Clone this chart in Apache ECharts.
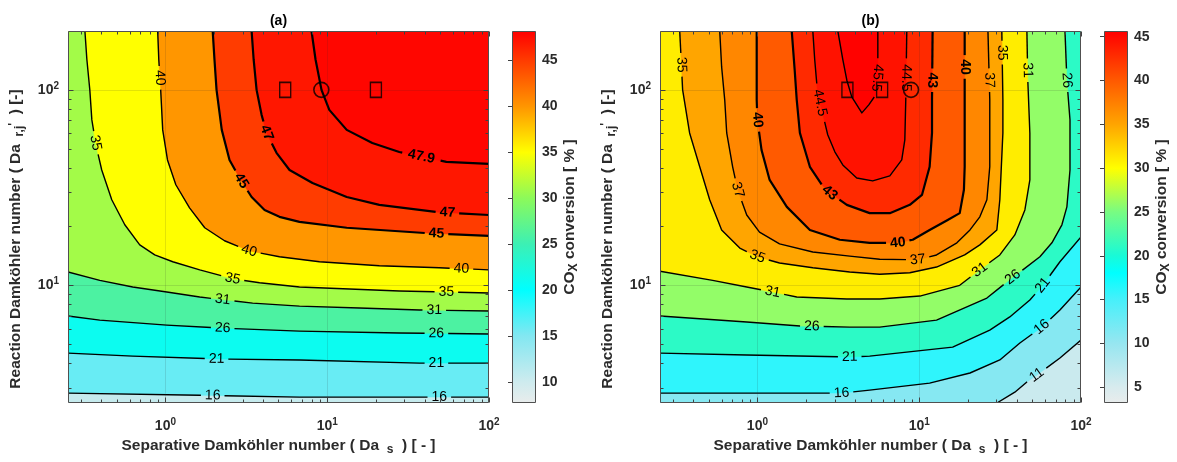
<!DOCTYPE html>
<html><head><meta charset="utf-8">
<script src="https://cdn.jsdelivr.net/npm/echarts@6/dist/echarts.min.js"></script>
<style>html,body{margin:0;padding:0;background:#fff}#c{width:1177px;height:462px}</style>
</head><body><div id="c"></div>
<script>
// ---------------- data ----------------
const X_RANGE = [0.25, 100];     // Separative Damkohler number
const Y_RANGE = [2.5, 200];      // Reaction Damkohler number
const X_TICKS = [1, 10, 100];
const Y_TICKS = [10, 100];

// panel (a)
const levelsA = [16, 21, 26, 31, 35, 40, 45, 47, 47.9];
const c16a = [[0.25,2.81],[1.63,2.74],[6.74,2.68],[100,2.68]];
const c21a = [[0.25,4.5],[0.628,4.34],[2.07,4.2],[6.74,4.15],[37.2,4.0],[100,4.0]];
const c26a = [[0.25,6.97],[0.393,6.64],[1.02,6.26],[2.26,6.04],[6.74,5.83],[27.9,5.7],[100,5.64]];
const c31a = [[0.25,11.7],[0.393,10.6],[0.628,9.8],[1.02,9.24],[1.63,8.71],[3.46,8.11],[6.74,7.83],[15.8,7.65],[37.2,7.48],[100,7.39]];
const c35a = [[0.318,200],[0.327,143],[0.341,100],[0.351,70.2],[0.372,52.3],[0.404,38.9],[0.466,27.4],[0.561,20.4],[0.694,16.1],[0.859,14.3],[1.11,13.2],[1.63,12.0],[2.6,10.8],[3.82,10.3],[6.74,9.8],[13.7,9.57],[27.9,9.35],[56.9,9.24],[100,9.14]];
const c40a = [[0.896,200],[0.91,143],[0.935,100],[0.962,62.4],[1.03,43.8],[1.16,32.7],[1.41,24.9],[1.75,19.7],[2.32,16.9],[3.31,15.0],[5.07,14.0],[8.96,13.2],[21.0,12.6],[49.3,12.3],[100,12.0]];
const c45a = [[1.96,200],[2.01,143],[2.07,100],[2.23,62.4],[2.49,43.8],[2.87,35.4],[3.41,28.3],[4.1,24.3],[5.07,22.4],[6.74,21.1],[13.2,19.7],[41,18.5],[100,17.9]];
const c47a = [[3.41,200],[3.51,143],[3.66,100],[3.93,74.5],[4.22,60.2],[4.86,47.6],[5.85,38.9],[8.11,33.4],[13.2,28.3],[21,25.8],[47.3,23.7],[100,22.9]];
const c479a = [[8.0,200],[8.47,143],[9.22,100],[10.3,79],[13.2,62.4],[19,53.5],[27.9,48.1],[54.5,42.8],[100,41.8]];
const labelsA = [[35,0.366,53.5],[35,2.6,10.8],[35,54.5,9.24],[40,0.896,115],[40,3.31,15.2],[40,67.5,12.0],
  [45,3.0,34.6],[45,47.3,17.9],[47,4.22,60.2],[47,55.3,23.4],[47.9,38.2,45.4],[31,2.26,8.41],[31,45.9,7.48],
  [26,2.26,6.04],[26,47.3,5.64],[21,2.07,4.2],[21,47.3,4.0],[16,1.96,2.7],[16,49.3,2.68]];
const boldA = [45, 47, 47.9];
const floorA = 10.5;
const squaresA = [[5.5,100],[20,100]];
const circlesA = [[9.2,100]];
const cbRangeA = [7.7, 48.2];
const cbTicksA = [10, 15, 20, 25, 30, 35, 40, 45];

// panel (b)
const levelsB = [11, 16, 21, 26, 31, 35, 37, 40, 43, 44.5, 45.5];
const c11b = [[30.2,2.5],[39.0,2.84],[46.3,3.2],[53.3,3.47],[74.1,4.25],[100,5.25]];
const c16b = [[0.25,2.81],[0.859,2.81],[3.31,2.81],[4.94,2.91],[11.6,3.16],[20.6,3.56],[31.5,4.15],[41.9,5.07],[57.3,6.11],[74.1,7.48],[100,9.8]];
const c21b = [[0.25,4.5],[0.859,4.4],[3.72,4.3],[4.94,4.34],[16.1,4.83],[27.3,5.9],[36.3,6.89],[48.3,8.41],[58.1,10.0],[74.1,13.2],[100,17.7]];
const c26b = [[0.25,6.97],[0.859,6.49],[1.83,6.19],[3.72,6.11],[5.7,6.11],[12.8,6.64],[26.2,8.61],[37.9,11.0],[43.7,12.0],[55.7,14.0],[66.1,16.5],[76.2,20.4],[81.8,25.2],[85.5,38.9],[85.5,70.2],[81.8,112],[79.6,200]];
const c31b = [[0.25,11.8],[0.529,10.6],[0.859,9.8],[1.24,9.24],[1.75,8.71],[3.57,8.51],[5.7,8.51],[10.1,8.81],[17.8,10.0],[23.7,12.0],[31.5,14.3],[39.0,18.1],[45.0,24.3],[48.3,34.6],[48.3,60.2],[46.9,112],[46.3,200]];
const c35b = [[0.331,200],[0.345,100],[0.381,60.2],[0.44,40.4],[0.507,27.4],[0.601,19.2],[0.778,15.5],[1.0,14.0],[1.37,13.0],[2.2,12.3],[3.72,11.7],[5.7,11.4],[8.75,11.6],[12.8,12.4],[19.1,14.3],[23.7,16.1],[30.2,19.2],[31.5,27.4],[32.9,60.2],[32.9,88.9],[32.4,200]];
const c37b = [[0.585,200],[0.601,131],[0.628,88.9],[0.646,60.2],[0.703,40.4],[0.755,30.8],[0.859,22.9],[1.03,18.7],[1.37,16.3],[2.2,14.8],[3.72,14.1],[5.7,13.6],[9.8,13.5],[12.8,14.3],[17.1,16.5],[20.6,19.2],[23.7,22.4],[26.2,27.4],[27.3,40.4],[27.3,88.9],[26.6,200]];
const c40b = [[0.99,200],[0.99,88.9],[1.0,70.2],[1.06,49.3],[1.19,34.6],[1.52,25.2],[2.11,19.2],[3.23,17.1],[4.94,16.5],[7.38,16.5],[9.12,17.1],[11.6,19.2],[15.0,21.6],[17.8,23.4],[18.9,30.8],[19.1,40.4],[19.1,88.9],[19.1,200]];
const c43b = [[1.63,200],[1.7,126],[1.75,88.9],[1.83,60.2],[2.11,40.4],[2.5,32.7],[2.8,29.7],[3.57,25.8],[4.94,23.4],[6.58,23.4],[8.75,25.8],[10.4,29.0],[11.6,40.4],[12.0,60.2],[12.0,88.9],[12.1,200]];
const c445b = [[2.2,200],[2.26,143],[2.36,94.3],[2.5,79],[2.72,58.9],[3.01,48.2],[3.37,41.3],[4.11,35.4],[5.16,34.2],[6.58,36.3],[7.8,43.8],[8.15,55.4],[8.26,88.9],[8.38,200]];
const c455b = [[3.14,200],[3.37,143],[3.57,112],[3.83,92.1],[4.42,76.2],[4.88,83.8],[5.39,94.3],[5.55,126],[5.55,200]];
const labelsB = [[35,0.326,134],[35,1.0,14.0],[35,31.5,155],[37,0.755,30.8],[37,9.8,13.5],[37,26.6,112],
  [40,1.0,70.2],[40,7.38,16.5],[40,18.9,131],[43,2.8,29.7],[43,11.6,112],[44.5,2.43,85.8],[44.5,8.38,115],
  [45.5,5.55,115],[31,1.24,9.24],[31,23.7,12.0],[31,46.3,126],[26,2.17,6.11],[26,37.9,11.0],[26,81.8,112],
  [21,3.72,4.3],[21,58.1,10.0],[16,3.31,2.81],[16,57.3,6.11],[11,53.3,3.47]];
const boldB = [40, 43];
const floorB = 6;
const squaresB = [[3.6,100],[5.9,100]];
const circlesB = [[8.9,100]];
const cbRangeB = [3.2, 45.65];
const cbTicksB = [5, 10, 15, 20, 25, 30, 35, 40, 45];

// ---------------- styling ----------------
const FONT = '"Liberation Sans", Arial, Helvetica, sans-serif';
const TXT = '#2b2b2b';
const CMAP_A = [[7.7,[232,236,236]],[10,[205,235,238]],[15,[130,231,241]],[20,[0,255,255]],[25,[60,240,180]],[30,[140,250,90]],[35,[255,255,0]],[40,[255,150,0]],[45,[255,60,0]],[48.2,[255,0,0]]];
const CMAP_B = [[3.2,[232,236,236]],[5,[215,235,238]],[10,[150,230,240]],[15,[70,240,250]],[18,[0,255,255]],[20,[25,250,215]],[25,[120,252,130]],[30,[255,255,0]],[35,[255,165,0]],[40,[255,90,0]],[45,[255,10,0]],[45.65,[255,0,0]]];

function rgb(c){ return 'rgb(' + c.map(v => Math.round(v)).join(',') + ')'; }
function cmapColor(cmap, v){
  if (v <= cmap[0][0]) return rgb(cmap[0][1]);
  for (let i = 0; i < cmap.length - 1; i++) {
    const a = cmap[i][0], b = cmap[i+1][0];
    if (v <= b) { const t = (v - a) / (b - a); return rgb(cmap[i][1].map((x, j) => x + (cmap[i+1][1][j] - x) * t)); }
  }
  return rgb(cmap[cmap.length-1][1]);
}

const panels = [
  {levels: levelsA, contours: [c16a,c21a,c26a,c31a,c35a,c40a,c45a,c47a,c479a], labels: labelsA, bold: boldA,
   floor: floorA, cmap: CMAP_A, cbRange: cbRangeA, cbTicks: cbTicksA, squares: squaresA, circles: circlesA,
   title: '(a)', grid: {left: 68, top: 31, width: 421, height: 372}, cb: {left: 512, top: 31, width: 24, height: 372}},
  {levels: levelsB, contours: [c11b,c16b,c21b,c26b,c31b,c35b,c37b,c40b,c43b,c445b,c455b], labels: labelsB, bold: boldB,
   floor: floorB, cmap: CMAP_B, cbRange: cbRangeB, cbTicks: cbTicksB, squares: squaresB, circles: circlesB,
   title: '(b)', grid: {left: 660, top: 31, width: 421, height: 372}, cb: {left: 1104, top: 31, width: 24, height: 372}}
];

// ---------------- geometry helpers ----------------
const lg = Math.log10;
const EXT = {x0: lg(X_RANGE[0]), x1: lg(X_RANGE[1]), y0: lg(Y_RANGE[0]), y1: lg(Y_RANGE[1])};
function perim(p){
  const x = lg(p[0]), y = lg(p[1]), e = 1e-4;
  const w = EXT.x1 - EXT.x0, h = EXT.y1 - EXT.y0;
  if (Math.abs(y - EXT.y0) < e) return (x - EXT.x0) / w;
  if (Math.abs(x - EXT.x1) < e) return 1 + (y - EXT.y0) / h;
  if (Math.abs(y - EXT.y1) < e) return 2 + (EXT.x1 - x) / w;
  return 3 + (EXT.y1 - y) / h;
}
const CORNERS = [[X_RANGE[0],Y_RANGE[0]],[X_RANGE[1],Y_RANGE[0]],[X_RANGE[1],Y_RANGE[1]],[X_RANGE[0],Y_RANGE[1]]];
// region above a contour (high side on the left of travel): close along the frame counter-clockwise
function superLevel(line){
  const se = perim(line[line.length-1]);
  let ss = perim(line[0]);
  if (ss <= se) ss += 4;
  const out = line.slice();
  for (let c = Math.floor(se) + 1; c < ss; c++) out.push(CORNERS[c % 4]);
  return out;
}

function fillRender(P){
  return function(params, api){
    const k = params.dataIndex;
    let poly, lev;
    if (k === 0) { poly = [CORNERS[0], CORNERS[1], CORNERS[2], CORNERS[3]]; lev = P.floor; }
    else { poly = superLevel(P.contours[k-1]); lev = P.levels[k-1]; }
    const col = cmapColor(P.cmap, lev);
    return {type: 'polygon', shape: {points: poly.map(p => api.coord(p))}, style: {fill: col, stroke: col, lineWidth: 0.5}};
  };
}

function contourRender(P){
  return function(params, api){
    const i = params.dataIndex;
    const level = P.levels[i];
    const pts = P.contours[i].map(p => api.coord(p));
    const cum = [0];
    for (let k = 1; k < pts.length; k++) cum.push(cum[k-1] + Math.hypot(pts[k][0]-pts[k-1][0], pts[k][1]-pts[k-1][1]));
    const total = cum[cum.length-1];
    const at = s => {
      for (let k = 0; k < pts.length - 1; k++) {
        if (s <= cum[k+1] || k === pts.length - 2) {
          const seg = cum[k+1] - cum[k];
          const t = seg > 0 ? Math.min(1, Math.max(0, (s - cum[k]) / seg)) : 0;
          return [pts[k][0] + (pts[k+1][0]-pts[k][0]) * t, pts[k][1] + (pts[k+1][1]-pts[k][1]) * t];
        }
      }
    };
    const bold = P.bold.indexOf(level) >= 0;
    const font = (bold ? 'bold ' : '') + '14px ' + FONT;
    const gaps = [], kids = [];
    P.labels.forEach(l => {
      if (l[0] !== level) return;
      const q = api.coord([l[1], l[2]]);
      let best = null;
      for (let k = 0; k < pts.length - 1; k++) {
        const a = pts[k], b = pts[k+1], dx = b[0]-a[0], dy = b[1]-a[1], L2 = dx*dx + dy*dy;
        let t = L2 > 0 ? ((q[0]-a[0])*dx + (q[1]-a[1])*dy) / L2 : 0;
        t = Math.max(0, Math.min(1, t));
        const x = a[0] + t*dx, y = a[1] + t*dy, d = (x-q[0])**2 + (y-q[1])**2;
        if (!best || d < best.d) best = {d, s: cum[k] + t*Math.sqrt(L2), x, y};
      }
      const txt = String(level);
      const half = (txt.length * 7.8 + 8) / 2;
      gaps.push([best.s - half, best.s + half]);
      const pA = at(Math.max(0, best.s - half)), pB = at(Math.min(total, best.s + half));
      let ang = Math.atan2(pB[1]-pA[1], pB[0]-pA[0]);
      const dd = 0.35;
      while (ang > Math.PI/2 + dd) ang -= Math.PI;
      while (ang <= -Math.PI/2 + dd) ang += Math.PI;
      const c = at(best.s);
      kids.push({type: 'text', x: c[0], y: c[1], rotation: -ang, z2: 10,
        style: {text: txt, font: font, fill: '#000', align: 'center', verticalAlign: 'middle'}});
    });
    gaps.sort((a, b) => a[0] - b[0]);
    let s = 0; const segs = [];
    gaps.forEach(g => { if (g[0] > s) segs.push([s, g[0]]); s = Math.max(s, g[1]); });
    if (s < total) segs.push([s, total]);
    segs.forEach(([s1, s2]) => {
      const seg = [at(s1)];
      for (let k = 0; k < pts.length; k++) if (cum[k] > s1 && cum[k] < s2) seg.push(pts[k]);
      seg.push(at(s2));
      kids.push({type: 'polyline', shape: {points: seg}, style: {stroke: '#000', lineWidth: bold ? 2.2 : 1.4, fill: null, lineJoin: 'round'}});
    });
    return {type: 'group', children: kids};
  };
}

function minorValues(range){
  const out = [];
  for (let e = -2; e <= 3; e++) for (let m = 2; m <= 9; m++) {
    const v = m * Math.pow(10, e);
    if (v > range[0] && v < range[1]) out.push(v);
  }
  return out;
}

function frameRender(params, api){
  const bl = api.coord([X_RANGE[0], Y_RANGE[0]]), tr = api.coord([X_RANGE[1], Y_RANGE[1]]);
  const L = Math.round(bl[0]) + 0.5, R = Math.round(tr[0]) - 0.5, T = Math.round(tr[1]) + 0.5, B = Math.round(bl[1]) - 0.5;
  const ch = [];
  const gridSt = {stroke: 'rgba(40,40,40,0.13)', lineWidth: 1};
  const tickSt = {stroke: '#404040', lineWidth: 1};
  const xp = v => Math.round(api.coord([v, Y_RANGE[0]])[0]) + 0.5;
  const yp = v => Math.round(api.coord([X_RANGE[0], v])[1]) + 0.5;
  X_TICKS.forEach(v => { if (v > X_RANGE[0] && v < X_RANGE[1]) { const x = xp(v); ch.push({type: 'line', shape: {x1: x, y1: T, x2: x, y2: B}, style: gridSt}); } });
  Y_TICKS.forEach(v => { if (v > Y_RANGE[0] && v < Y_RANGE[1]) { const y = yp(v); ch.push({type: 'line', shape: {x1: L, y1: y, x2: R, y2: y}, style: gridSt}); } });
  const xt = (v, len) => { const x = xp(v); ch.push({type: 'line', shape: {x1: x, y1: B, x2: x, y2: B - len}, style: tickSt}, {type: 'line', shape: {x1: x, y1: T, x2: x, y2: T + len}, style: tickSt}); };
  const yt = (v, len) => { const y = yp(v); ch.push({type: 'line', shape: {x1: L, y1: y, x2: L + len, y2: y}, style: tickSt}, {type: 'line', shape: {x1: R, y1: y, x2: R - len, y2: y}, style: tickSt}); };
  X_TICKS.forEach(v => xt(v, 5)); minorValues(X_RANGE).forEach(v => xt(v, 3));
  Y_TICKS.forEach(v => yt(v, 5)); minorValues(Y_RANGE).forEach(v => yt(v, 3));
  ch.push({type: 'rect', shape: {x: L, y: T, width: R - L, height: B - T}, style: {fill: null, stroke: '#505050', lineWidth: 1}});
  return {type: 'group', children: ch};
}

function colorbarRender(P){
  return function(params, api){
    const r = P.cbRange;
    const p0 = api.coord([0, r[0]]), p1 = api.coord([1, r[1]]);
    const stops = P.cmap.map(([v, c]) => ({offset: (v - r[0]) / (r[1] - r[0]), color: rgb(c)}));
    const shape = {x: Math.round(p0[0]) + 0.5, y: Math.round(p1[1]) + 0.5, width: Math.round(p1[0] - p0[0]) - 1, height: Math.round(p0[1] - p1[1]) - 1};
    return {type: 'group', children: [
      {type: 'rect', shape: shape, style: {fill: {type: 'linear', x: 0, y: 1, x2: 0, y2: 0, colorStops: stops, global: false}}},
      {type: 'rect', shape: shape, style: {fill: null, stroke: '#505050', lineWidth: 1}}
    ]};
  };
}

function logLabel(v){
  const e = lg(v), r = Math.round(e);
  if (Math.abs(e - r) > 1e-6) return '';
  return '{b|10}{e|' + r + '}';
}
const tickRich = {
  b: {fontSize: 14, fontWeight: 'bold', fontFamily: FONT, color: TXT, lineHeight: 18},
  e: {fontSize: 10, fontWeight: 'bold', fontFamily: FONT, color: TXT, verticalAlign: 'top', lineHeight: 10}
};
const nameRich = {
  n: {fontSize: 15.5, fontWeight: 'bold', fontFamily: FONT, color: TXT, padding: [0, 0, 8, 0]},
  s: {fontSize: 12, fontWeight: 'bold', fontFamily: FONT, color: TXT},
  p: {fontSize: 12, fontWeight: 'bold', fontFamily: FONT, color: TXT, verticalAlign: 'top'}
};

const grid = [], xAxis = [], yAxis = [], series = [], graphic = [];
panels.forEach((P, pi) => {
  const g = grid.length;
  grid.push(P.grid, P.cb);
  xAxis.push({
    type: 'log', logBase: 10, gridIndex: g, min: X_RANGE[0], max: X_RANGE[1],
    axisLine: {show: false}, axisTick: {show: false}, splitLine: {show: false},
    axisLabel: {formatter: logLabel, rich: tickRich, margin: 14, showMinLabel: true, showMaxLabel: true, hideOverlap: false},
    name: '{n|Separative Damköhler number ( Da }{s| s}{n|  ) [ - ]}', nameLocation: 'middle', nameGap: 34,
    nameTextStyle: {rich: nameRich}
  }, {type: 'value', gridIndex: g + 1, min: 0, max: 1, show: false});
  yAxis.push({
    type: 'log', logBase: 10, gridIndex: g, min: Y_RANGE[0], max: Y_RANGE[1],
    axisLine: {show: false}, axisTick: {show: false}, splitLine: {show: false},
    axisLabel: {formatter: logLabel, rich: tickRich, margin: 9, showMinLabel: true, showMaxLabel: true, hideOverlap: false},
    name: '{n|Reaction Damköhler number ( Da }{s| r,j}{p|\'}{n|  ) [-]}', nameLocation: 'middle', nameGap: 36,
    nameTextStyle: {rich: nameRich, padding: [0, 44, 0, 0]}
  }, {
    type: 'value', gridIndex: g + 1, min: P.cbRange[0], max: P.cbRange[1], position: 'right',
    axisLine: {show: false}, splitLine: {show: false},
    axisTick: {show: true, inside: true, length: 4, customValues: P.cbTicks, lineStyle: {color: '#404040'}},
    axisLabel: {customValues: P.cbTicks, fontSize: 14, fontWeight: 'bold', fontFamily: FONT, color: TXT, margin: 6},
    name: '{n|CO}{s|X}{n| conversion [ % ]}', nameLocation: 'middle', nameGap: 26, nameRotate: 90,
    nameTextStyle: {rich: nameRich}
  });
  const bandData = [P.floor].concat(P.levels).map(() => [X_RANGE[0], Y_RANGE[0]]);
  series.push(
    {type: 'custom', xAxisIndex: g, yAxisIndex: g, z: 1, silent: true, clip: true, renderItem: fillRender(P), data: bandData},
    {type: 'custom', xAxisIndex: g, yAxisIndex: g, z: 3, silent: true, clip: true, renderItem: contourRender(P), data: P.levels.map(() => [X_RANGE[0], Y_RANGE[0]])},
    {type: 'scatter', xAxisIndex: g, yAxisIndex: g, z: 4, silent: true, symbol: 'rect', symbolSize: [11, 15],
      itemStyle: {color: 'rgba(0,0,0,0)', borderColor: '#000', borderWidth: 1.6}, data: P.squares},
    {type: 'scatter', xAxisIndex: g, yAxisIndex: g, z: 4, silent: true, symbol: 'circle', symbolSize: 15,
      itemStyle: {color: 'rgba(0,0,0,0)', borderColor: '#000', borderWidth: 1.6}, data: P.circles},
    {type: 'custom', xAxisIndex: g, yAxisIndex: g, z: 5, silent: true, renderItem: frameRender, data: [[X_RANGE[0], Y_RANGE[0]]]},
    {type: 'custom', xAxisIndex: g + 1, yAxisIndex: g + 1, z: 1, silent: true, renderItem: colorbarRender(P), data: [[0, P.cbRange[0]]]}
  );
  graphic.push({type: 'text', x: P.grid.left + P.grid.width / 2, y: 21,
    style: {text: P.title, font: 'bold 14px ' + FONT, fill: '#000', align: 'center', verticalAlign: 'middle'}});
});

const chart = echarts.init(document.getElementById('c'), null, {renderer: 'canvas'});
chart.setOption({animation: false, backgroundColor: '#fff', grid, xAxis, yAxis, series, graphic});
</script>
</body></html>
